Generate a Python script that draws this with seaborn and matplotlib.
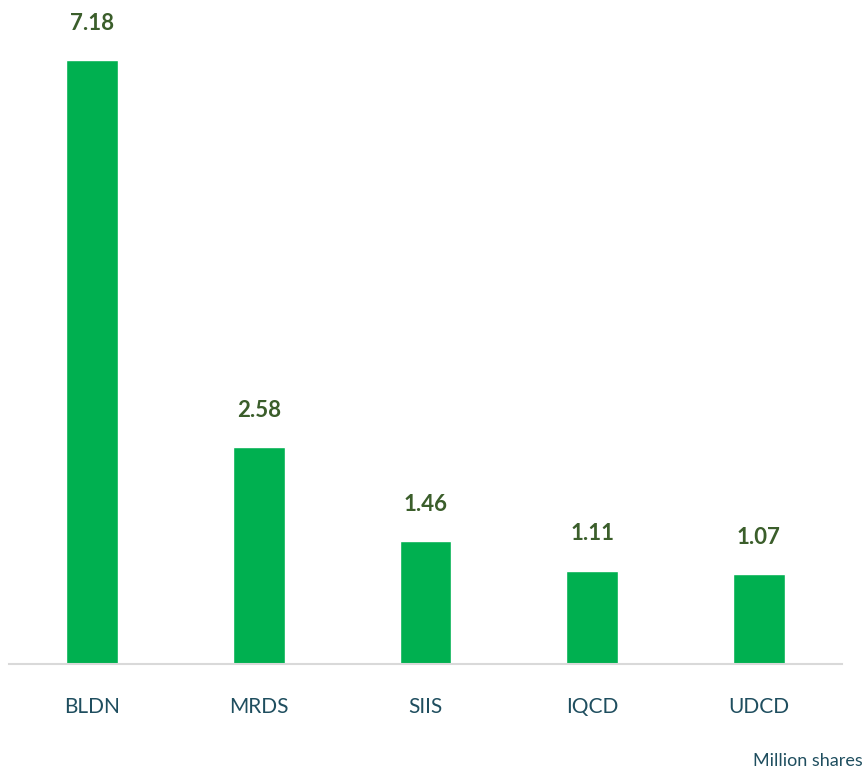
import matplotlib
matplotlib.use('Agg')
import matplotlib.pyplot as plt
import seaborn as sns
import pandas as pd

# Data
tickers = ['BLDN', 'MRDS', 'SIIS', 'IQCD', 'UDCD']
volumes = [7.18, 2.58, 1.46, 1.11, 1.07]

df = pd.DataFrame({'ticker': tickers, 'volume': volumes})

sns.set_theme(style='white')
plt.rcParams['font.family'] = ['Lato', 'DejaVu Sans']

fig = plt.figure(figsize=(8.65, 7.71), dpi=100)
ax = fig.add_axes([0.0104, 0.1388, 0.963, 0.8612])

sns.barplot(x='ticker', y='volume', data=df, color='#00B050', width=0.31,
            saturation=1, ax=ax)

ax.set_ylim(0, 7.89)
ax.set_xlim(-0.5, len(tickers) - 0.5)

# Value labels above the bars
for i, v in enumerate(volumes):
    ax.text(i, v + 0.31, f'{v:.2f}', ha='center', va='bottom', fontsize=16,
            fontweight='bold', color='#3B5E2B')

for side in ['top', 'right', 'left']:
    ax.spines[side].set_visible(False)
ax.spines['bottom'].set_color('#D9D9D9')
ax.spines['bottom'].set_linewidth(1.5)

ax.set_yticks([])
ax.set_xlabel('')
ax.set_ylabel('')
ax.tick_params(axis='x', length=0, pad=24, labelsize=15, labelcolor='#1F4E5F')

fig.text(0.997, 0.002, 'Million shares', ha='right', va='bottom', fontsize=13,
         color='#1F4E5F')

fig.savefig('out.png', dpi=100)
